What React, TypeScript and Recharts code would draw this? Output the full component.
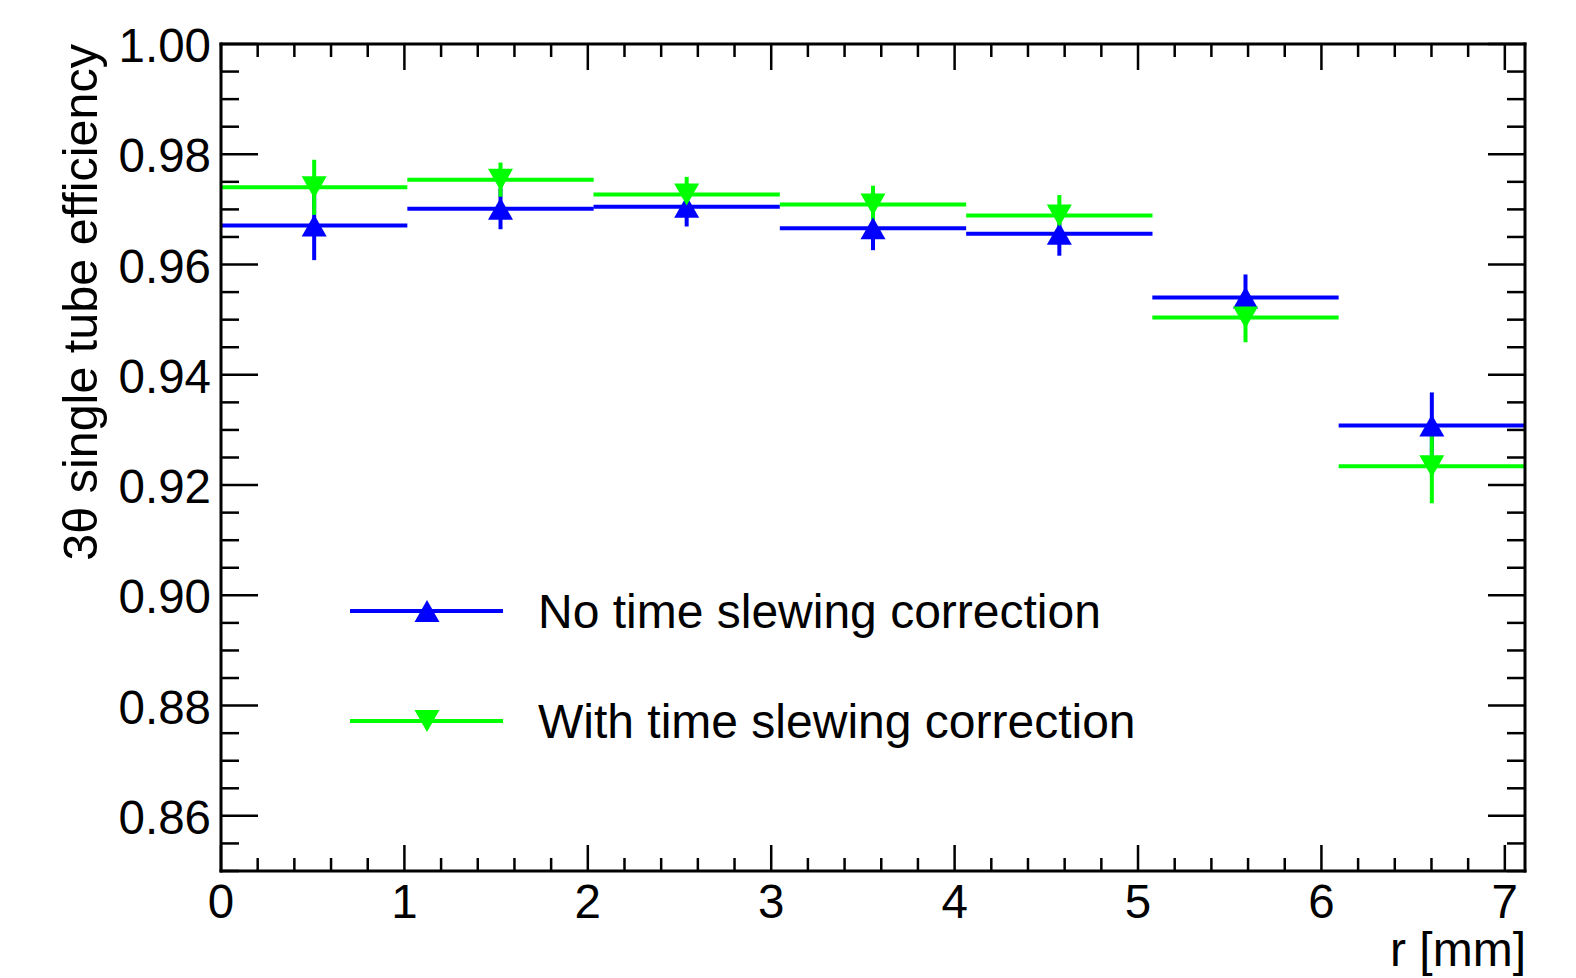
import React from "react";
import { ComposedChart, Scatter, ErrorBar, XAxis, YAxis, Label } from "recharts";

// bin centres in r [mm], half bin width
const binCenters = [0.508, 1.524, 2.539, 3.555, 4.571, 5.586, 6.602];
const binHalfWidth = 0.508;

// efficiency without time slewing correction
const noCorrEff = [0.9671, 0.9701, 0.9705, 0.9666, 0.9656, 0.954, 0.9308];
const noCorrErr = [0.0063, 0.0037, 0.0036, 0.004, 0.004, 0.0042, 0.006];

// efficiency with time slewing correction
const withCorrEff = [0.974, 0.9754, 0.9727, 0.9709, 0.9689, 0.9504, 0.9234];
const withCorrErr = [0.005, 0.0031, 0.0032, 0.0034, 0.0037, 0.0045, 0.0067];

const xMajorTicks = [0, 1, 2, 3, 4, 5, 6, 7];
const yMajorTicks = [0.86, 0.88, 0.9, 0.92, 0.94, 0.96, 0.98, 1.0];

const X_MAX = 7.11;
const Y_MIN = 0.85;
const Y_MAX = 1.0;

const BLUE = "#0000ff";
const GREEN = "#00ff00";
const FONT = "'Liberation Sans', Arial, Helvetica, sans-serif";
const LABEL_SIZE = 47.5;

// minor ticks: 5 per major on x, 4 per major on y
const xTicks: number[] = [];
for (let i = 0; i * 0.2 <= X_MAX + 1e-9; i++) xTicks.push(+(i * 0.2).toFixed(3));
const yTicks: number[] = [];
for (let i = 0; Y_MIN + i * 0.005 <= Y_MAX + 1e-9; i++) yTicks.push(+(Y_MIN + i * 0.005).toFixed(4));

const isMajorX = (v: number) => xMajorTicks.some((m) => Math.abs(m - v) < 1e-6);
const isMajorY = (v: number) => yMajorTicks.some((m) => Math.abs(m - v) < 1e-6);

const noCorrData = binCenters.map((x, i) => ({
  x,
  y: noCorrEff[i],
  ex: binHalfWidth,
  ey: noCorrErr[i],
}));
const withCorrData = binCenters.map((x, i) => ({
  x,
  y: withCorrEff[i],
  ex: binHalfWidth,
  ey: withCorrErr[i],
}));

const TICK_W = 2.5;

const BottomTick = (props: any) => {
  const { x, y, payload } = props;
  const major = isMajorX(payload.value);
  return (
    <g>
      <line x1={x} x2={x} y1={y} y2={y - (major ? 26 : 13)} stroke="#000" strokeWidth={TICK_W} />
      {major && (
        <text x={x} y={y + 47} textAnchor="middle" fontSize={LABEL_SIZE} fontFamily={FONT} fill="#000">
          {Math.round(payload.value)}
        </text>
      )}
    </g>
  );
};

// top axis box is 1px tall, ticks hang down from its lower edge
const TopTick = (props: any) => {
  const { x, y, payload } = props;
  const major = isMajorX(payload.value);
  return <line x1={x} x2={x} y1={y} y2={y + (major ? 26 : 13)} stroke="#000" strokeWidth={TICK_W} />;
};

const LeftTick = (props: any) => {
  const { x, y, payload } = props;
  const major = isMajorY(payload.value);
  return (
    <g>
      <line x1={x} x2={x + (major ? 37 : 18)} y1={y} y2={y} stroke="#000" strokeWidth={TICK_W} />
      {major && (
        <text x={x - 10} y={y + 18} textAnchor="end" fontSize={LABEL_SIZE} fontFamily={FONT} fill="#000">
          {payload.value.toFixed(2)}
        </text>
      )}
    </g>
  );
};

const RightTick = (props: any) => {
  const { x, y, payload } = props;
  const major = isMajorY(payload.value);
  return <line x1={x} x2={x - (major ? 37 : 18)} y1={y} y2={y} stroke="#000" strokeWidth={TICK_W} />;
};

const triUp = (cx: number, cy: number) =>
  `M${cx - 12.5},${cy + 11} L${cx + 12.5},${cy + 11} L${cx},${cy - 11} Z`;
const triDown = (cx: number, cy: number) =>
  `M${cx - 12.5},${cy - 11} L${cx + 12.5},${cy - 11} L${cx},${cy + 11} Z`;

const UpMarker = (props: any) => <path d={triUp(props.cx, props.cy)} fill={BLUE} />;
const DownMarker = (props: any) => <path d={triDown(props.cx, props.cy)} fill={GREEN} />;

const axisLine = { stroke: "#000", strokeWidth: 3, strokeLinecap: "square" as const };

const legendItems = [
  { label: "No time slewing correction", color: BLUE, marker: triUp },
  { label: "With time slewing correction", color: GREEN, marker: triDown },
];

function LegendBox() {
  return (
    <svg width={1576} height={978} style={{ position: "absolute", left: 0, top: 0, pointerEvents: "none" }}>
      {legendItems.map((it, i) => {
        const cy = 611 + i * 110;
        return (
          <g key={it.label}>
            <line x1={350} x2={503} y1={cy} y2={cy} stroke={it.color} strokeWidth={4} />
            <path d={it.marker(427, cy)} fill={it.color} />
            <text x={538} y={cy + 17} fontSize={48} fontFamily={FONT} fill="#000">
              {it.label}
            </text>
          </g>
        );
      })}
    </svg>
  );
}

export default function App() {
  return (
    <div style={{ position: "absolute", left: 0, top: 0, width: 1576, height: 978, background: "#fff" }}>
      <ComposedChart width={1576} height={978} margin={{ top: 43, right: 50, bottom: 0, left: 0 }}>
        <XAxis
          xAxisId="bottom"
          type="number"
          dataKey="x"
          domain={[0, X_MAX]}
          allowDataOverflow
          ticks={xTicks}
          interval={0}
          height={107}
          tickSize={0}
          tickMargin={0}
          tick={<BottomTick />}
          axisLine={axisLine}
        >
          <Label
            content={() => (
              <text x={1526} y={966} textAnchor="end" fontSize={48} fontFamily={FONT} fill="#000">
                r [mm]
              </text>
            )}
          />
        </XAxis>
        <XAxis
          xAxisId="top"
          orientation="top"
          type="number"
          dataKey="x"
          domain={[0, X_MAX]}
          allowDataOverflow
          ticks={xTicks}
          interval={0}
          height={1}
          tickSize={0}
          tickMargin={0}
          tick={<TopTick />}
          axisLine={axisLine}
        />
        <YAxis
          yAxisId="left"
          type="number"
          dataKey="y"
          domain={[Y_MIN, Y_MAX]}
          allowDataOverflow
          ticks={yTicks}
          interval={0}
          width={221}
          tickSize={0}
          tickMargin={0}
          tick={<LeftTick />}
          axisLine={axisLine}
        >
          <Label
            content={() => (
              <text
                transform="translate(97,44) rotate(-90)"
                textAnchor="end"
                fontSize={48.5}
                fontFamily={FONT}
                fill="#000"
              >
                3θ single tube efficiency
              </text>
            )}
          />
        </YAxis>
        <YAxis
          yAxisId="right"
          orientation="right"
          type="number"
          dataKey="y"
          domain={[Y_MIN, Y_MAX]}
          allowDataOverflow
          ticks={yTicks}
          interval={0}
          width={1}
          tickSize={0}
          tickMargin={0}
          tick={<RightTick />}
          axisLine={axisLine}
        />
        <Scatter
          name="No time slewing correction"
          data={noCorrData}
          xAxisId="bottom"
          yAxisId="left"
          shape={<UpMarker />}
          isAnimationActive={false}
        >
          <ErrorBar dataKey="ex" direction="x" width={0} stroke={BLUE} strokeWidth={4} />
          <ErrorBar dataKey="ey" direction="y" width={0} stroke={BLUE} strokeWidth={4} />
        </Scatter>
        <Scatter
          name="With time slewing correction"
          data={withCorrData}
          xAxisId="bottom"
          yAxisId="left"
          shape={<DownMarker />}
          isAnimationActive={false}
        >
          <ErrorBar dataKey="ex" direction="x" width={0} stroke={GREEN} strokeWidth={4} />
          <ErrorBar dataKey="ey" direction="y" width={0} stroke={GREEN} strokeWidth={4} />
        </Scatter>
      </ComposedChart>
      <LegendBox />
    </div>
  );
}
